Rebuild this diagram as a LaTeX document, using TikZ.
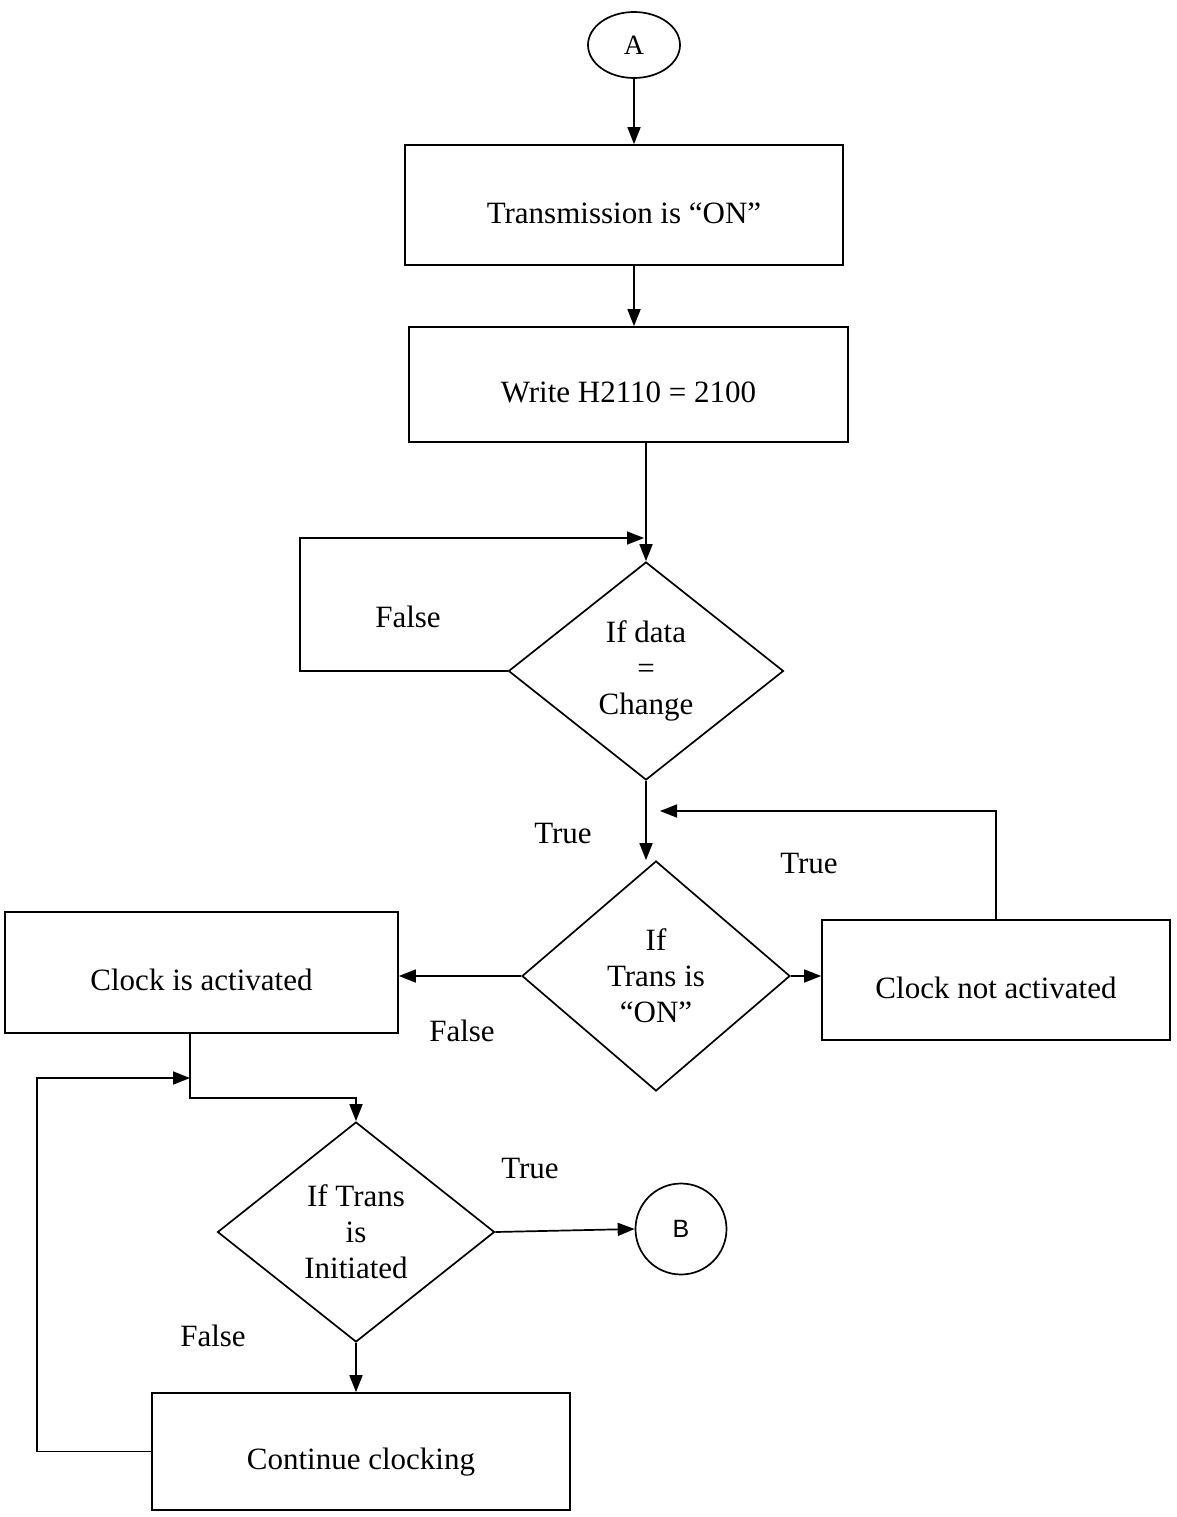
\documentclass[tikz,border=0pt]{standalone}
\usepackage{fontspec}
\setmainfont{Liberation Serif}
\newfontfamily\connfont{Liberation Sans}
\usetikzlibrary{shapes.geometric,arrows.meta}

\begin{document}
\begin{tikzpicture}[x=1pt,y=-1pt,
  every node/.style={font=\fontsize{31}{36}\selectfont},
  box/.style={draw, line width=1.7pt, inner sep=0pt, text height=36pt, text depth=0pt},
  cond/.style={draw, diamond, line width=1.7pt, inner sep=0pt, align=center},
  arr/.style={line width=1.7pt, -{Triangle[length=17pt,width=13pt]}}]

\useasboundingbox (0,0) rectangle (1177,1517);

% terminals
\node[draw, ellipse, line width=1.7pt, minimum width=92pt, minimum height=66pt, inner sep=0pt,
      font=\fontsize{28}{32}\selectfont] (A) at (634,45) {A};
\node[draw, circle, line width=1.7pt, minimum size=91pt, inner sep=0pt,
      font=\connfont\fontsize{25}{30}\selectfont] (B) at (681,1229) {B};

% process boxes
\node[box, minimum width=438pt, minimum height=120pt] (b1) at (624,205) {Transmission is “ON”};
\node[box, minimum width=439pt, minimum height=115pt] (b2) at (628.5,384.5) {Write H2110 = 2100};
\node[box, minimum width=348pt, minimum height=120pt] (b3) at (996,980) {Clock not activated};
\node[box, minimum width=393pt, minimum height=121pt] (b4) at (201.5,972.5) {Clock is activated};
\node[box, minimum width=418pt, minimum height=117pt] (b5) at (361,1451.5) {Continue clocking};

% decisions
\node[cond, minimum width=275pt, minimum height=218pt] (d1) at (646,671) {If data\\=\\Change};
\node[cond, minimum width=268pt, minimum height=230pt] (d2) at (656,976) {If\\Trans is\\“ON”};
\node[cond, minimum width=277pt, minimum height=220pt] (d3) at (356,1232) {If Trans\\is\\Initiated};

% junction points on the flow lines
\coordinate (j1) at (644,538);
\coordinate (f1) at (300,538);
\coordinate (j2) at (660,811);
\coordinate (j3) at (190,1098);
\coordinate (j4) at (190,1078);
\coordinate (f3) at (37,1078);

% main flow
\draw[arr] (A.south) -- (A.south |- b1.north);
\draw[arr] (b1.south -| A.south) -- (A.south |- b2.north);
\draw[arr] (b2.south -| d1.north) -- (d1.north);
\draw[arr] (d1.south) -- (d1.south |- d2.north);
\draw[arr] (d2.east) -- (d2.east -| b3.west);
\draw[arr] (d2.west) -- (d2.west -| b4.east);
\draw[arr] (b4.south -| j3) -- (j3) -| (d3.north);
\draw[arr] (d3.east) -- (B.west);
\draw[arr] (d3.south) -- (d3.south |- b5.north);

% loops
\draw[arr] (d1.west) -| (f1) -- (j1);
\draw[arr] (b3.north) |- (j2);
\draw[arr] (b5.west) -| (f3) -- (j4);

% branch labels
\node (l1) at (408,617) {False};
\node (l2) at (563,833) {True};
\node (l3) at (809,863) {True};
\node (l4) at (462,1031) {False};
\node (l5) at (530,1168) {True};
\node (l6) at (213,1336) {False};

\end{tikzpicture}
\end{document}
